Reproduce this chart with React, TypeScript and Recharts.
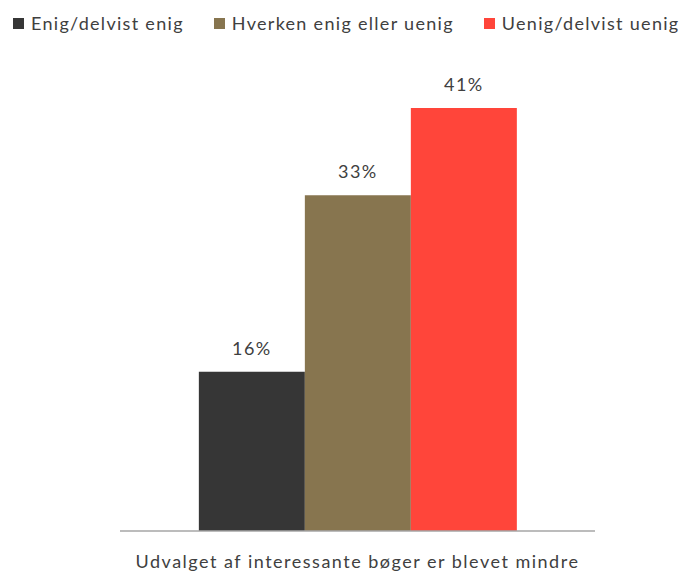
import { BarChart, Bar, XAxis, YAxis, Legend, LabelList } from "recharts";

const categories = ["Udvalget af interessante bøger er blevet mindre"];
const seriesNames = ["Enig/delvist enig", "Hverken enig eller uenig", "Uenig/delvist uenig"];
const seriesValues = [15.5, 32.7, 41.2];
const seriesColors = ["#363636", "#87754F", "#FF453A"];

const data = categories.map((name) => {
    const row: Record<string, string | number> = { name };
    seriesNames.forEach((s, i) => {
        row[s] = seriesValues[i];
    });
    return row;
});

const FONT = "Lato, 'Open Sans', sans-serif";

const renderLegend = () => (
    <div style={styles.legend}>
        {seriesNames.map((s, i) => (
            <div key={s} style={styles.legendItem}>
                <span style={{ ...styles.swatch, background: seriesColors[i] }} />
                <span>{s}</span>
            </div>
        ))}
    </div>
);

export default function App() {
    return (
        <BarChart
            width={687}
            height={565}
            data={data}
            margin={{ top: 31, right: 100, bottom: 12, left: 112 }}
            barCategoryGap="16.6%"
            barGap={0}
        >
            <YAxis hide domain={[0, 45]} />
            <XAxis
                dataKey="name"
                height={30}
                tickLine={false}
                axisLine={{ stroke: "#A6A6A6", strokeWidth: 1.5 }}
                tick={{ fill: "#404040", fontSize: 18, fontFamily: FONT, letterSpacing: 1.5 }}
                tickMargin={18}
            />
            <Legend
                verticalAlign="top"
                content={renderLegend}
                wrapperStyle={{ top: 0, left: 0, width: 687, height: 30 }}
            />
            {seriesNames.map((s, i) => (
                <Bar key={s} dataKey={s} fill={seriesColors[i]} isAnimationActive={false}>
                    <LabelList
                        dataKey={s}
                        position="top"
                        offset={17}
                        formatter={(v: number) => `${Math.round(v)}%`}
                        style={{ fill: "#404040", fontSize: 18, fontFamily: FONT, letterSpacing: 1.5 }}
                    />
                </Bar>
            ))}
        </BarChart>
    );
}

const styles: Record<string, React.CSSProperties> = {
    legend: {
        display: "flex", alignItems: "center", gap: "30px", height: "30px",
        fontFamily: FONT, fontSize: "18px", letterSpacing: "1.3px", color: "#404040",
        paddingLeft: "5px", whiteSpace: "nowrap", boxSizing: "border-box",
    },
    legendItem: { display: "flex", alignItems: "center", gap: "7px" },
    swatch: { display: "inline-block", width: "11px", height: "11px" },
};
